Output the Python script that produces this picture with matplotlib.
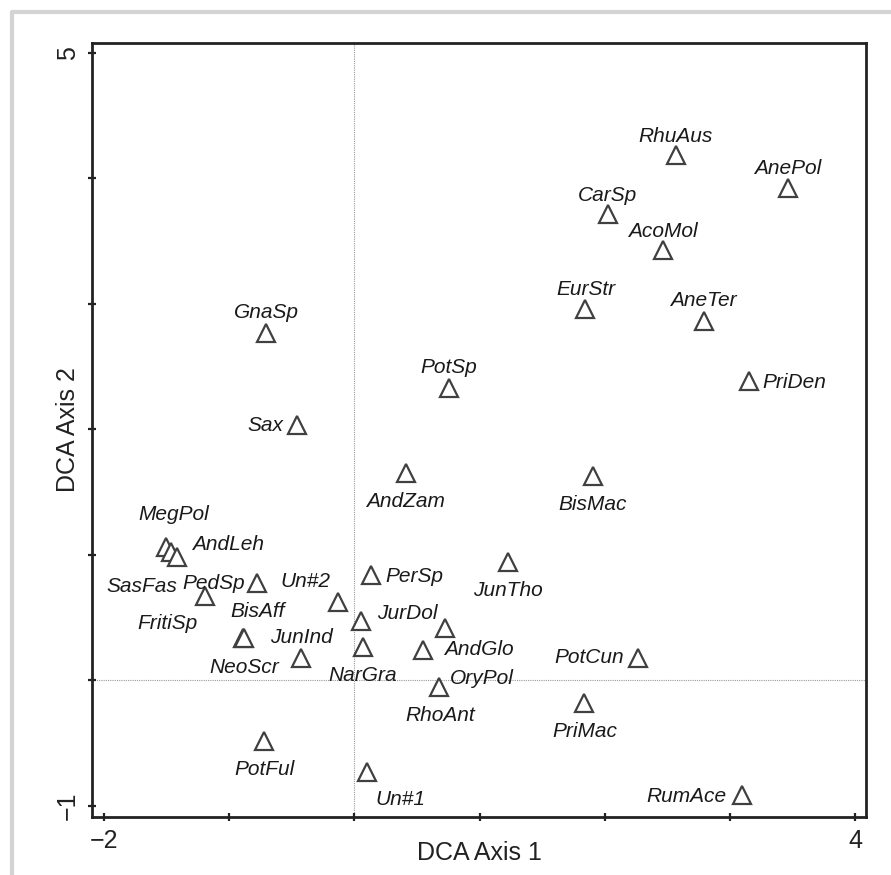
import matplotlib
matplotlib.use("Agg")
import matplotlib.pyplot as plt
from matplotlib import font_manager
from matplotlib.lines import Line2D

# DCA species scores
species = ["RhuAus", "AnePol", "CarSp", "AcoMol", "EurStr", "AneTer", "PriDen",
           "PotSp", "GnaSp", "Sax", "AndZam", "BisMac", "MegPol", "SasFas",
           "AndLeh", "FritiSp", "PedSp", "Un#2", "PerSp", "JurDol", "BisAff",
           "NeoScr", "JunInd", "NarGra", "AndGlo", "OryPol", "RhoAnt", "PotFul",
           "Un#1", "JunTho", "PotCun", "PriMac", "RumAce"]
axis1 = [2.569, 3.463, 2.026, 2.465, 1.842, 2.792, 3.152,
         0.756, -0.706, -0.458, 0.412, 1.906, -1.505, -1.465,
         -1.417, -1.193, -0.778, -0.131, 0.133, 0.053, -0.890,
         -0.885, -0.427, 0.069, 0.724, 0.548, 0.676, -0.722,
         0.101, 1.227, 2.265, 1.834, 3.096]
axis2 = [4.187, 3.924, 3.717, 3.430, 2.960, 2.865, 2.386,
         2.331, 2.769, 2.036, 1.653, 1.629, 1.064, 1.024,
         0.984, 0.673, 0.777, 0.625, 0.841, 0.474, 0.339,
         0.335, 0.179, 0.267, 0.418, 0.243, -0.052, -0.482,
         -0.729, 0.944, 0.179, -0.179, -0.912]

# where each label sits relative to its triangle (pixels, alignment)
label_pos = {
    "RhuAus": (0, 19, "center"), "AnePol": (0, 20, "center"),
    "CarSp": (0, 19, "center"), "AcoMol": (0, 19, "center"),
    "EurStr": (1, 20, "center"), "AneTer": (0, 20, "center"),
    "PriDen": (14, -1, "left"), "PotSp": (0, 20, "center"),
    "GnaSp": (0, 20, "center"), "Sax": (-14, -1, "right"),
    "AndZam": (0, -28, "center"), "BisMac": (0, -28, "center"),
    "MegPol": (8, 32, "center"), "SasFas": (6, -35, "right"),
    "AndLeh": (15, 12, "left"), "FritiSp": (-38, -28, "center"),
    "PedSp": (-12, -1, "right"), "Un#2": (-33, 21, "center"),
    "PerSp": (14, -2, "left"), "JurDol": (16, 7, "left"),
    "BisAff": (15, 26, "center"), "NeoScr": (1, -29, "center"),
    "JunInd": (1, 20, "center"), "NarGra": (0, -29, "center"),
    "AndGlo": (-1, -22, "left"), "OryPol": (27, -29, "left"),
    "RhoAnt": (1, -29, "center"), "PotFul": (0, -29, "center"),
    "Un#1": (33, -28, "center"), "JunTho": (0, -29, "center"),
    "PotCun": (-14, 0, "right"), "PriMac": (1, -29, "center"),
    "RumAce": (-15, -2, "right"),
}

names = {f.name for f in font_manager.fontManager.ttflist}
if "Liberation Sans Narrow" in names:
    label_font, label_size = "Liberation Sans Narrow", 17
else:
    label_font, label_size = "Liberation Sans", 15

plt.rcParams["font.family"] = ["Liberation Sans", "DejaVu Sans"]

fig = plt.figure(figsize=(8.91, 8.75), dpi=100)
ax = fig.add_axes([0.1033, 0.0663, 0.8686, 0.8846])

# light grey frame round the figure
fig.add_artist(Line2D([0.0135, 0.0135, 1.0], [0.0, 0.9863, 0.9863],
                      transform=fig.transFigure, color="#d4d4d4", lw=3))

ax.axvline(0, color="#999999", lw=0.8, ls=(0, (1, 1)), zorder=1)
ax.axhline(0, color="#999999", lw=0.8, ls=(0, (1, 1)), zorder=1)

ax.plot(axis1, axis2, ls="none", marker="^", ms=12.5, mfc="white",
        mec="#404040", mew=1.6, zorder=3)

for name, x, y in zip(species, axis1, axis2):
    dx, dy, ha = label_pos[name]
    ax.annotate(name, (x, y), xytext=(dx, dy), textcoords="offset pixels",
                ha=ha, va="center", fontsize=label_size, fontstyle="italic",
                family=label_font, color="#1a1a1a", zorder=4)

ax.set_xlim(-2.096, 4.088)
ax.set_ylim(-1.088, 5.08)

ax.set_xticks(range(-2, 5))
ax.set_xticklabels(["\u22122", "", "", "", "", "", "4"])
ax.set_yticks(range(-1, 6))
ax.set_yticklabels(["\u22121", "", "", "", "", "", "5"])
ax.tick_params(direction="inout", length=6, width=1.6, labelsize=18,
               colors="#222222")
ax.tick_params(axis="x", pad=6)
ax.tick_params(axis="y", pad=5.5, labelrotation=90)
for lab in ax.get_yticklabels():
    lab.set_va("center")

for sp in ax.spines.values():
    sp.set_linewidth(2)
    sp.set_color("#222222")

ax.set_xlabel("DCA Axis 1", fontsize=18, color="#222222")
ax.set_ylabel("DCA Axis 2", fontsize=18, color="#222222")
ax.xaxis.set_label_coords(0.5, -0.0556)
ax.xaxis.label.set_verticalalignment("baseline")
ax.yaxis.set_label_coords(-0.022, 0.5)
ax.yaxis.label.set_verticalalignment("baseline")

fig.savefig("out.png", dpi=100)
